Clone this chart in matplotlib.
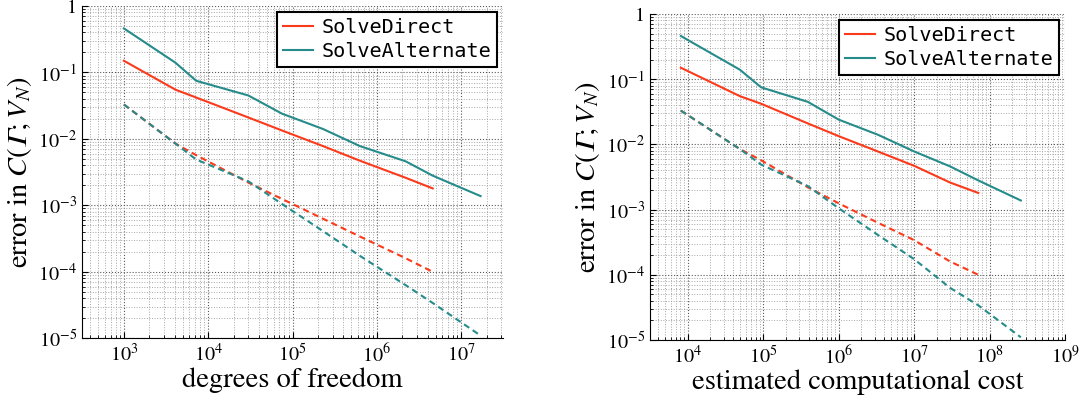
import numpy as np
import matplotlib
matplotlib.use("Agg")
import matplotlib.pyplot as plt
from matplotlib.ticker import LogLocator, FuncFormatter, NullFormatter

plt.rcParams['font.family'] = ['STIXGeneral', 'DejaVu Serif']
plt.rcParams['mathtext.fontset'] = 'stix'

# degrees of freedom (shared by both solvers) and estimated cost
dofs = [1.0e3, 4.1e3, 7.2e3, 3.0e4, 7.5e4, 2.3e5, 6.3e5, 2.2e6, 4.6e6, 1.7e7]
cost = [8.1e3, 4.9e4, 9.4e4, 3.9e5, 1.0e6, 3.3e6, 1.0e7, 3.0e7, 7.1e7, 2.6e8]

# errors (solid) and estimates (dashed)
direct_err = [0.150, 0.055, 0.042, 0.021, 0.0134, 0.0078, 0.0047, 0.0026, 0.0018]
direct_est = [0.033, 0.0085, 0.0057, 0.0022, 0.00125, 0.00063, 0.00034, 0.00016, 0.0001]
alt_err = [0.46, 0.14, 0.075, 0.045, 0.024, 0.0141, 0.0078, 0.0046, 0.0028, 0.00138]
alt_est = [0.033, 0.0085, 0.0049, 0.0023, 0.00105, 0.00041, 0.000174, 0.000063, 0.000034, 0.000011]

labels = ["SolveDirect", "SolveAlternate"]
red = "#fb3a1c"
teal = "#268b8b"

fig = plt.figure(figsize=(10.8, 4.0), dpi=100)
ax1 = fig.add_axes([81.7 / 1080, 1 - 338.3 / 400, (503.3 - 81.7) / 1080, (338.3 - 6) / 400])
ax2 = fig.add_axes([650 / 1080, 1 - 340 / 400, (1065 - 650) / 1080, (340 - 14) / 400])


def fmt(v, pos):
    e = int(round(np.log10(v)))
    if e == 0:
        return "1"
    return r"$10^{%d}$" % e


def draw(ax, x, xlim, xlabel):
    n = len(direct_err)
    ax.plot(x[:n], direct_err, color=red, lw=1.5, label=labels[0])
    ax.plot(x, alt_err, color=teal, lw=1.5, label=labels[1])
    ax.plot(x[:n], direct_est, color=red, lw=1.5, dashes=(3, 2))
    ax.plot(x, alt_est, color=teal, lw=1.5, dashes=(3, 2))
    ax.set_xscale('log')
    ax.set_yscale('log')
    ax.set_xlim(*xlim)
    ax.set_ylim(1e-5, 1)
    ax.xaxis.set_major_locator(LogLocator(base=10, numticks=20))
    ax.xaxis.set_minor_locator(LogLocator(base=10, subs=np.arange(2, 10), numticks=20))
    ax.yaxis.set_major_locator(LogLocator(base=10, numticks=20))
    ax.yaxis.set_minor_locator(LogLocator(base=10, subs=np.arange(2, 10), numticks=20))
    ax.xaxis.set_major_formatter(FuncFormatter(fmt))
    ax.yaxis.set_major_formatter(FuncFormatter(fmt))
    ax.xaxis.set_minor_formatter(NullFormatter())
    ax.yaxis.set_minor_formatter(NullFormatter())
    ax.grid(which='major', ls=':', lw=0.8, color='0.35')
    ax.grid(which='minor', ls=':', lw=0.7, color='0.65')
    ax.set_axisbelow(True)
    for s in ['top', 'right']:
        ax.spines[s].set_visible(False)
    ax.tick_params(which='both', direction='in', labelsize=14.5, top=False, right=False)
    ax.tick_params(which='major', length=4)
    ax.tick_params(which='minor', length=2)
    ax.set_xlabel(xlabel, fontsize=20.5, labelpad=1)
    ax.set_ylabel("error in $C(\U0001D6E4; V_N)$", fontsize=20.5, labelpad=3)
    leg = ax.legend(loc='upper right', prop={'family': 'DejaVu Sans Mono', 'size': 14.5},
                    fancybox=False, framealpha=1, edgecolor='black', borderaxespad=0.3,
                    handlelength=1.5, handletextpad=0.4, borderpad=0.3, labelspacing=0.25)
    leg.get_frame().set_linewidth(1.5)


draw(ax1, dofs, (10 ** 2.5, 10 ** 7.5), "degrees of freedom")
draw(ax2, cost, (10 ** 3.5, 1e9), "estimated computational cost")

fig.savefig("out.png", dpi=100)
